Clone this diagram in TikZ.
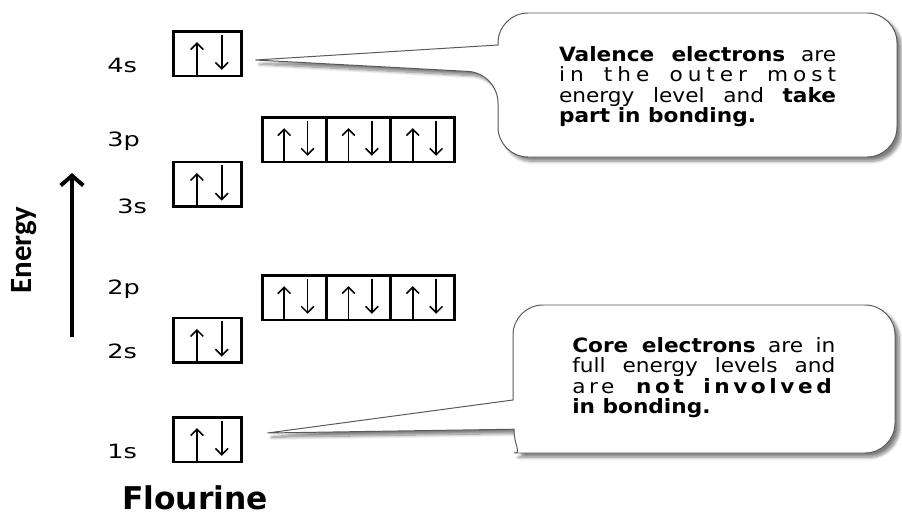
\documentclass[tikz,border=0pt]{standalone}
\usepackage{fontspec}
\setmainfont{DejaVu Sans}
\newfontfamily\energyfont{Carlito}
\newfontfamily\notefont[FakeStretch=1.1]{DejaVu Sans}
\newfontfamily\levelfont[FakeStretch=1.3]{DejaVu Sans}
\usetikzlibrary{calc,arrows.meta,shadows.blur}

\tikzset{
  orbital/.style={draw, line width=2pt, minimum width=1.6cm, minimum height=1.12cm, inner sep=0pt},
  sorbital/.style={orbital, minimum width=1.7cm},
  spin/.style={line width=1.1pt, -{Straight Barb[length=4.5pt,width=9pt]}},
  level/.style={anchor=base west, inner sep=0pt, font=\levelfont\fontsize{14}{16}\selectfont},
  callout/.style={draw=black!65, line width=0.7pt, fill=white, rounded corners=0.75cm,
    blur shadow={shadow xshift=3pt, shadow yshift=-3pt, shadow blur steps=8, shadow opacity=50}},
  note/.style={anchor=north west, inner sep=0pt, align=justify, font=\notefont\fontsize{14}{14.5}\selectfont},
}

% up and down electron inside one orbital box
\newcommand{\spinpair}[1]{%
  \draw[spin] ($(#1.south west)!0.35!(#1.south east)$) -- ++(0,0.88);
  \draw[spin] ($(#1.north west)!0.7!(#1.north east)+(0,-0.12)$) -- ++(0,-0.88);
}

\begin{document}
\begin{tikzpicture}

\useasboundingbox (0,0) rectangle (22.55,12.95);

% Orbital boxes
\node[sorbital] (s4) at (5.19,11.61) {};
\node[orbital] (p3a) at (7.355,9.46) {};
\node[orbital] (p3b) at (8.963,9.46) {};
\node[orbital] (p3c) at (10.57,9.46) {};
\node[sorbital] (s3) at (5.19,8.34) {};
\node[orbital] (p2a) at (7.355,5.51) {};
\node[orbital] (p2b) at (8.963,5.51) {};
\node[orbital] (p2c) at (10.57,5.51) {};
\node[sorbital] (s2) at (5.19,4.44) {};
\node[sorbital] (s1) at (5.19,1.96) {};

% Paired electrons
\foreach \o in {s4,p3a,p3b,p3c,s3,p2a,p2b,p2c,s2,s1}
  \spinpair{\o};

% Level labels
\node[level] (l4s) at (2.675,11.125) {4s};
\node[level] (l3p) at (2.675,9.3) {3p};
\node[level] (l3s) at (2.925,7.625) {3s};
\node[level] (l2p) at (2.675,5.6) {2p};
\node[level] (l2s) at (2.675,4.0) {2s};
\node[level] (l1s) at (2.675,1.5) {1s};

% Energy axis
\coordinate (elow) at (1.8,4.525);
\coordinate (ehigh) at (1.8,8.625);
\draw[line width=2.8pt, -{Straight Barb[length=7pt,width=16pt]}] (elow) -- (ehigh);
\node[rotate=90, font=\energyfont\bfseries\fontsize{22}{24}\selectfont] (energy) at (0.59,6.7) {Energy};

% Callout for the valence shell
\coordinate (vtip) at ($(s4.east)+(0.31,-0.16)$);
\draw[callout] (12.45,11.825) |- (22.425,12.625) |- (12.45,9.025) -- (12.45,11.125)
  [sharp corners] -- (vtip) -- cycle;
\node[note, text width=6.925cm] (valence) at (13.97,11.8)
  {\textbf{Valence electrons} are\linebreak
   {\addfontfeatures{LetterSpace=25}in the outer most}\linebreak
   energy level and \textbf{take}\linebreak
   \textbf{part in bonding.}};

% Callout for the core shells (pointer runs into the lower corner)
\coordinate (ctip) at ($(s1.east)+(0.61,0.165)$);
\draw[callout, sharp corners] (ctip) -- (12.825,2.95) -- (12.825,3.6)
  [rounded corners=0.75cm] -- (12.825,5.325) -- (22.375,5.325) -- (22.375,1.625) -- (13.6,1.625)
  [sharp corners] .. controls (13.05,1.625) and (12.85,1.8) .. (12.85,2.22) -- cycle;
\node[note, text width=6.575cm] (core) at (14.3,4.525)
  {\textbf{Core electrons} are in\linebreak
   full energy levels and\linebreak
   {\addfontfeatures{LetterSpace=18}are \textbf{not involved}}\linebreak
   \textbf{in bonding.}};

% Element name
\node[anchor=base, inner sep=0pt, font=\bfseries\fontsize{22.3}{26}\selectfont] (element) at (4.875,0.22) {Flourine};

\end{tikzpicture}
\end{document}
